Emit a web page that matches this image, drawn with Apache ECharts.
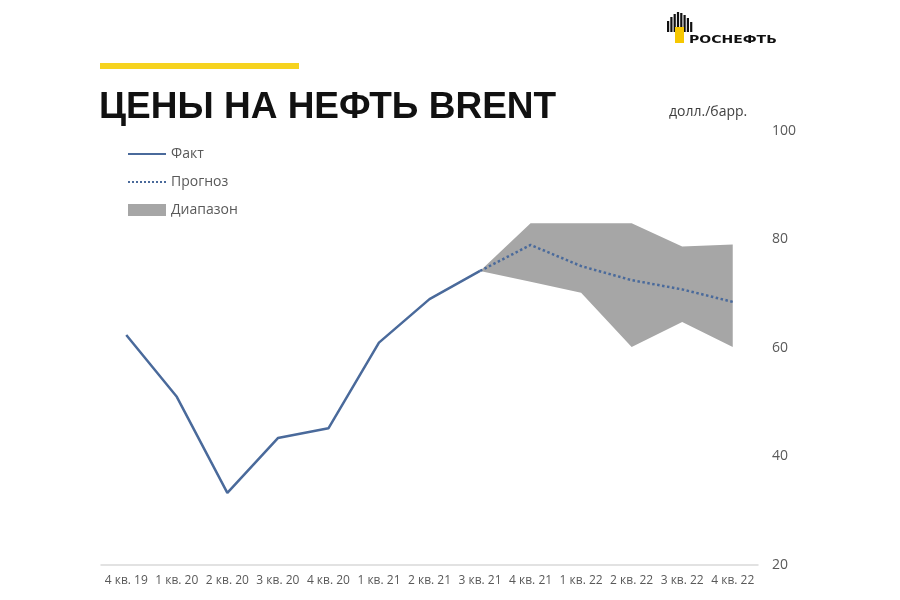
<!DOCTYPE html>
<html>
<head>
<meta charset="utf-8">
<script src="https://cdn.jsdelivr.net/npm/echarts@6/dist/echarts.min.js"></script>
<style>
  html, body { margin: 0; padding: 0; background: #fff; }
  #chart { width: 900px; height: 600px; }
</style>
</head>
<body>
<div id="chart"></div>
<script>
// кварталы
var quarters = ['4 кв. 19', '1 кв. 20', '2 кв. 20', '3 кв. 20', '4 кв. 20', '1 кв. 21', '2 кв. 21',
  '3 кв. 21', '4 кв. 21', '1 кв. 22', '2 кв. 22', '3 кв. 22', '4 кв. 22'];
// факт, долл./барр.
var fact = [62.4, 51.0, 33.3, 43.4, 45.2, 61.0, 69.0, 74.2, null, null, null, null, null];
// прогноз
var forecast = [null, null, null, null, null, null, null, 74.2, 79.0, 75.1, 72.5, 70.8, 68.5];
// диапазон
var rangeLow = [null, null, null, null, null, null, null, 74.2, 72.2, 70.2, 60.2, 64.8, 60.2];
var rangeHigh = [null, null, null, null, null, null, null, 74.2, 83.0, 83.0, 83.0, 78.7, 79.1];
var yTicks = [20, 40, 60, 80, 100];

var rangeDiff = rangeHigh.map(function (v, i) {
  return v == null ? null : +(v - rangeLow[i]).toFixed(1);
});

var blue = '#4a6a9b';
var grey = '#a6a6a6';
var txt = '#595959';

var chart = echarts.init(document.getElementById('chart'));

// логотип: веер из столбиков
var fan = [];
var fanTops = [21, 17, 14, 12, 13, 15, 18, 22];
fanTops.forEach(function (t, i) {
  fan.push({
    type: 'rect',
    shape: { x: 667 + i * 3.3, y: t, width: 2.2, height: 32 - t },
    style: { fill: '#111' }
  });
});

var option = {
  backgroundColor: '#fff',
  animation: false,
  textStyle: { fontFamily: '"Open Sans", "Noto Sans", sans-serif' },
  grid: { left: 101, right: 142, top: 131, bottom: 35 },
  legend: {
    orient: 'vertical',
    left: 122,
    top: 142,
    itemWidth: 38,
    itemHeight: 12,
    itemGap: 14,
    textStyle: { color: txt, fontSize: 14 },
    data: [
      { name: 'Факт', itemStyle: { opacity: 0 } },
      { name: 'Прогноз', itemStyle: { opacity: 0 } },
      { name: 'Диапазон', icon: 'rect', itemStyle: { color: grey } }
    ]
  },
  xAxis: {
    type: 'category',
    data: quarters,
    boundaryGap: true,
    axisLine: { lineStyle: { color: '#d9d9d9', width: 1.5 } },
    axisTick: { show: false },
    axisLabel: { interval: 0, color: txt, fontSize: 12, margin: 10 }
  },
  yAxis: {
    type: 'value',
    position: 'right',
    min: yTicks[0],
    max: yTicks[yTicks.length - 1],
    interval: 20,
    axisLine: { show: false },
    axisTick: { show: false },
    splitLine: { show: false },
    axisLabel: { color: txt, fontSize: 14, margin: 14 }
  },
  series: [
    {
      name: 'rangeBase',
      type: 'line',
      stack: 'range',
      data: rangeLow,
      symbol: 'none',
      lineStyle: { width: 0, opacity: 0 },
      silent: true,
      z: 1
    },
    {
      name: 'Диапазон',
      type: 'line',
      stack: 'range',
      data: rangeDiff,
      symbol: 'none',
      itemStyle: { color: grey },
      lineStyle: { width: 0, opacity: 0 },
      areaStyle: { color: grey, opacity: 1 },
      z: 2
    },
    {
      name: 'Факт',
      type: 'line',
      data: fact,
      symbol: 'none',
      itemStyle: { color: blue },
      lineStyle: { color: blue, width: 2.5 },
      z: 3
    },
    {
      name: 'Прогноз',
      type: 'line',
      data: forecast,
      symbol: 'none',
      itemStyle: { color: blue },
      lineStyle: { color: blue, width: 2.5, type: 'dotted' },
      z: 3
    }
  ],
  graphic: [
    { type: 'rect', shape: { x: 100, y: 63, width: 199, height: 6 }, style: { fill: '#f6d31f' } },
    {
      type: 'text', left: 99, top: 89,
      style: { text: 'ЦЕНЫ НА НЕФТЬ BRENT', fill: '#111', font: 'bold 37px "Liberation Sans", Arial, sans-serif' }
    },
    {
      type: 'text', left: 669, top: 105,
      style: { text: 'долл./барр.', fill: '#404040', font: '14px "Open Sans", sans-serif' }
    },
    { type: 'group', children: fan },
    { type: 'rect', shape: { x: 675, y: 27, width: 9, height: 16 }, style: { fill: '#f6c700' } },
    {
      type: 'text', x: 689, y: 35, scaleX: 1.4,
      style: { text: 'РОСНЕФТЬ', fill: '#111', font: 'bold 10px "DejaVu Sans", sans-serif' }
    }
  ]
};

chart.setOption(option);
</script>
</body>
</html>
